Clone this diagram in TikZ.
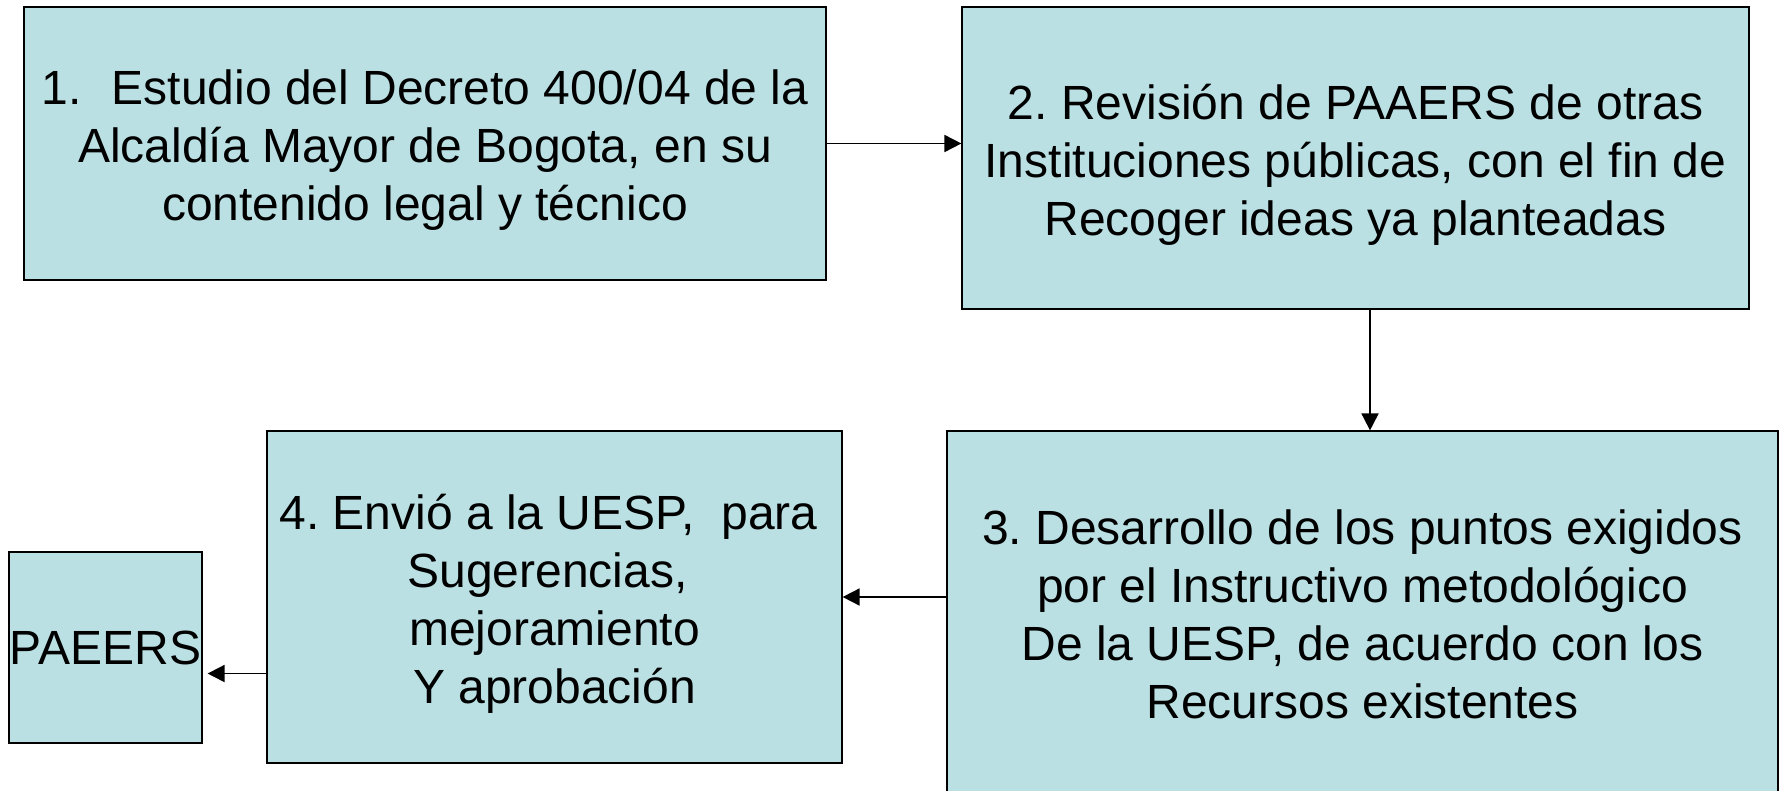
\documentclass[tikz,border=0pt]{standalone}
\usepackage{fontspec}
\setmainfont{Liberation Sans}
\usetikzlibrary{arrows.meta}
\definecolor{boxblue}{RGB}{186,224,227}

\begin{document}
\frenchspacing
\begin{tikzpicture}[x=0.5pt,y=-0.5pt]
    \tikzstyle{every node} = [font=\fontsize{24}{29}\selectfont]
    \tikzstyle{block} = [draw, line width=0.6pt, rectangle, fill=boxblue, inner sep=0pt]
    \tikzstyle{txt} = [align=center, inner sep=0pt]
    \tikzstyle{arr} = [-{Triangle[length=8.5pt,width=8.5pt]}, line width=0.9pt]
    \clip (0,0) rectangle (1781,791);
    % place nodes
    \node[block,minimum width=401pt,minimum height=136.5pt](estudio) at (425,143.5){};
    \node[txt](estudio text) at ([yshift=-3.2pt]estudio.center)
    {1.\hspace{15pt}Estudio del Decreto 400/04 de la\\Alcaldía Mayor de Bogota, en su\\contenido legal y técnico};
    \node[block,minimum width=393.5pt,minimum height=151pt](revision) at (1355.5,158){};
    \node[txt](revision text) at ([yshift=-3.2pt]revision.center)
    {2. Revisión de PAAERS de otras\\Instituciones públicas, con el fin de\\Recoger ideas ya planteadas};
    \node[block,minimum width=415.5pt,minimum height=183pt](desarrollo) at (1362.5,614){};
    \node[txt](desarrollo text) at (desarrollo.center)
    {3. Desarrollo de los puntos exigidos\\por el Instructivo metodológico\\De la UESP, de acuerdo con los\\Recursos existentes};
    \node[block,minimum width=287.5pt,minimum height=166pt](envio) at (554.5,597){};
    \node[txt](envio text) at ([yshift=-3.2pt]envio.center)
    {4. Envió a la UESP,\ \ para\makebox[6pt]{}\\Sugerencias,\makebox[7pt]{}\\mejoramiento\\Y aprobación};
    \node[block,minimum width=96.5pt,minimum height=95.5pt](paeers) at (105.5,647.5){PAEERS};

    % Connections
    \draw[arr] (estudio.east)--(revision.west |- estudio.east);
    \draw[arr] ([xshift=7.25pt]revision.south)--([xshift=7.25pt]revision.south |- desarrollo.north);
    \draw[arr] (desarrollo.west |- envio.east)--(envio.east);
    \draw[arr] (envio.west |- paeers.-15)--([xshift=2.5pt]paeers.-15);

  \end{tikzpicture}
\end{document}
